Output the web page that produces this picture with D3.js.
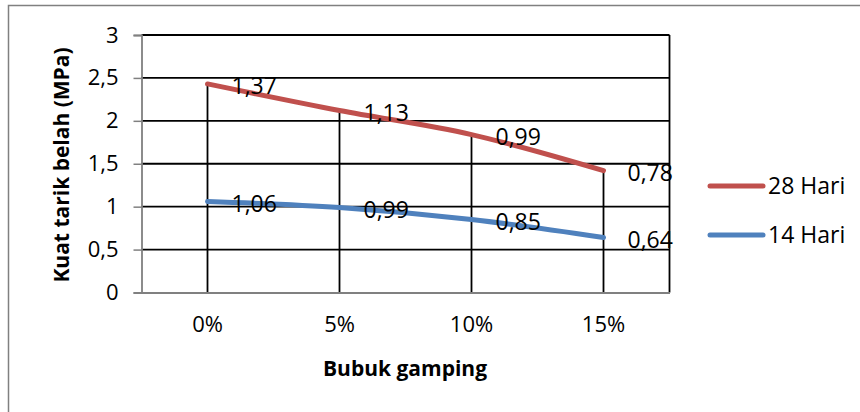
<!DOCTYPE html>
<html lang="en">
<head>
    <script src="https://d3js.org/d3.v7.min.js"></script>
    <style>
        body { margin: 0; background: #fff; }
        svg { display: block; font-family: "Open Sans", sans-serif; }
    </style>
</head>
<body>
    <svg width="860" height="412"></svg>
    <script>
        // Kuat tarik belah per kadar bubuk gamping (line chart, stacked)
        const categories = ["0%", "5%", "10%", "15%"];
        const hari14 = [1.06, 0.99, 0.85, 0.64];
        const hari28 = [1.37, 1.13, 0.99, 0.78];
        const yTicks = [0, 0.5, 1, 1.5, 2, 2.5, 3];
        const seriesNames = ["28 Hari", "14 Hari"];

        const svg = d3.select("svg");
        const plotL = 141.5, plotR = 669.5, plotT = 35, plotB = 292.5;
        const fmt = d => String(d).replace(".", ",");

        // outer frame, cut off at right and bottom like the original
        svg.append("rect")
            .attr("x", 8.5).attr("y", 5.5)
            .attr("width", 1000).attr("height", 1000)
            .attr("fill", "none").attr("stroke", "#808080").attr("stroke-width", 1.5);

        const x = d3.scaleBand().domain(categories).range([plotL, plotR]);
        const y = d3.scaleLinear().domain([0, 3]).range([plotB, plotT]);
        const cx = c => x(c) + x.bandwidth() / 2;

        // stacked values
        const stack14 = hari14;
        const stack28 = hari28.map((v, i) => v + hari14[i]);

        // gridlines
        svg.append("g")
            .selectAll("line")
            .data(yTicks.filter(d => d > 0))
            .join("line")
            .attr("x1", plotL).attr("x2", plotR)
            .attr("y1", d => y(d)).attr("y2", d => y(d))
            .attr("stroke", "#000").attr("stroke-width", 1.8);

        // right border of plot
        svg.append("line")
            .attr("x1", plotR).attr("x2", plotR)
            .attr("y1", plotT).attr("y2", plotB)
            .attr("stroke", "#000").attr("stroke-width", 1.8);

        // drop lines
        svg.append("g")
            .selectAll("line")
            .data(categories)
            .join("line")
            .attr("x1", d => cx(d)).attr("x2", d => cx(d))
            .attr("y1", (d, i) => y(stack28[i])).attr("y2", plotB)
            .attr("stroke", "#000").attr("stroke-width", 1.8);

        // y axis
        const yAxis = svg.append("g")
            .attr("transform", `translate(${plotL},0)`)
            .call(d3.axisLeft(y).tickValues(yTicks).tickFormat(fmt).tickSize(8).tickPadding(15));
        yAxis.select(".domain").attr("stroke", "#808080").attr("stroke-width", 1.8);
        yAxis.selectAll(".tick line").attr("stroke", "#808080").attr("stroke-width", 1.5);
        yAxis.selectAll("text")
            .attr("font-size", 22).attr("font-family", "Open Sans").attr("fill", "#000");

        // x axis
        const xAxis = svg.append("g")
            .attr("transform", `translate(0,${plotB})`)
            .call(d3.axisBottom(x).tickSize(0).tickPadding(24));
        xAxis.select(".domain").attr("stroke", "#808080").attr("stroke-width", 1.8);
        xAxis.selectAll("text")
            .attr("font-size", 22).attr("font-family", "Open Sans").attr("fill", "#000");

        // lines
        const line = d3.line()
            .x((d, i) => cx(categories[i]))
            .y(d => y(d))
            .curve(d3.curveMonotoneX);

        const series = [
            {name: seriesNames[0], values: stack28, labels: hari28, color: "#C0504D"},
            {name: seriesNames[1], values: stack14, labels: hari14, color: "#4F81BD"}
        ];

        svg.append("g")
            .selectAll("path")
            .data(series)
            .join("path")
            .attr("d", d => line(d.values))
            .attr("fill", "none")
            .attr("stroke", d => d.color)
            .attr("stroke-width", 5)
            .attr("stroke-linecap", "round")
            .attr("stroke-linejoin", "round");

        // data labels
        series.forEach(s => {
            svg.append("g")
                .selectAll("text")
                .data(s.values)
                .join("text")
                .attr("x", (d, i) => cx(categories[i]) + 24)
                .attr("y", d => y(d) + 2)
                .attr("dy", "0.35em")
                .attr("font-size", 23)
                .attr("fill", "#000")
                .text((d, i) => fmt(s.labels[i]));
        });

        // axis titles
        svg.append("text")
            .attr("x", 405).attr("y", 376)
            .attr("text-anchor", "middle")
            .attr("font-size", 21).attr("font-weight", "bold")
            .text("Bubuk gamping");

        svg.append("text")
            .attr("transform", "translate(69,165) rotate(-90)")
            .attr("text-anchor", "middle")
            .attr("font-size", 21).attr("font-weight", "bold")
            .text("Kuat tarik belah (MPa)");

        // legend
        const legend = svg.append("g")
            .selectAll("g")
            .data(series)
            .join("g")
            .attr("transform", (d, i) => `translate(710,${186 + i * 49})`);
        legend.append("line")
            .attr("x1", 0).attr("x2", 53)
            .attr("stroke", d => d.color)
            .attr("stroke-width", 5)
            .attr("stroke-linecap", "round");
        legend.append("text")
            .attr("x", 58).attr("dy", "0.35em")
            .attr("font-size", 23)
            .text(d => d.name);
    </script>
</body>
</html>
